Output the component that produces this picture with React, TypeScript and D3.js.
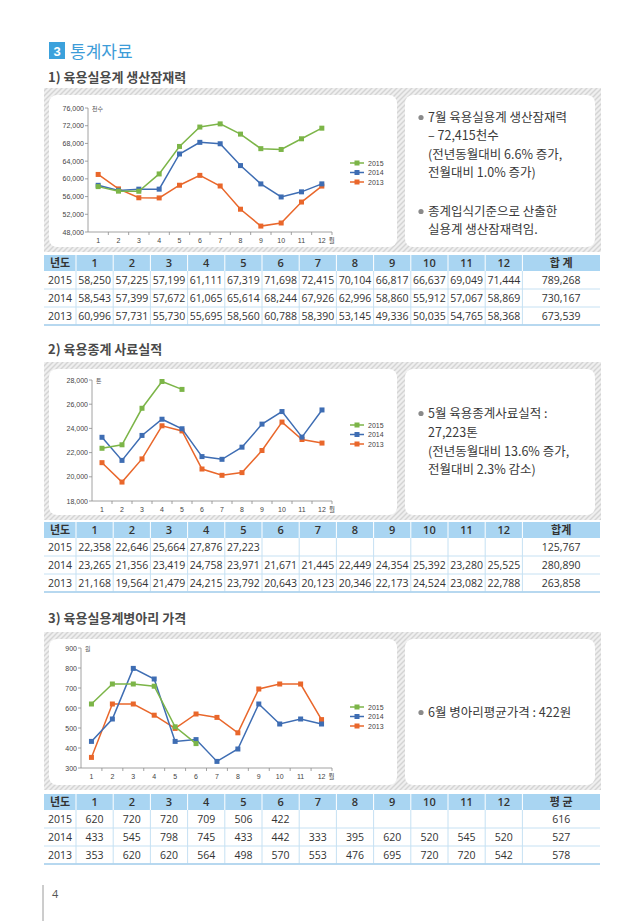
import React from 'react';
import * as d3 from 'd3';

const months = ['1', '2', '3', '4', '5', '6', '7', '8', '9', '10', '11', '12'];
const years = ['2015', '2014', '2013'];
const colors = ['#7cb548', '#3e6db3', '#e9672b'];

// 1) 육용실용계 생산잠재력 (천수)
const prod2015 = [58250, 57225, 57199, 61111, 67319, 71698, 72415, 70104, 66817, 66637, 69049, 71444];
const prod2014 = [58543, 57399, 57672, 61065, 65614, 68244, 67926, 62996, 58860, 55912, 57067, 58869];
const prod2013 = [60996, 57731, 55730, 55695, 58560, 60788, 58390, 53145, 49336, 50035, 54765, 58368];
const prodTotals = [789268, 730167, 673539];
// the chart draws month 4 of 2014 level with month 3
const prodChart2014 = [58543, 57399, 57672, 57672, 65614, 68244, 67926, 62996, 58860, 55912, 57067, 58869];
const prodTicks = [48000, 52000, 56000, 60000, 64000, 68000, 72000, 76000];

// 2) 육용종계 사료실적 (톤)
const feed2015 = [22358, 22646, 25664, 27876, 27223, null, null, null, null, null, null, null];
const feed2014 = [23265, 21356, 23419, 24758, 23971, 21671, 21445, 22449, 24354, 25392, 23280, 25525];
const feed2013 = [21168, 19564, 21479, 24215, 23792, 20643, 20123, 20346, 22173, 24524, 23082, 22788];
const feedTotals = [125767, 280890, 263858];
const feedTicks = [18000, 20000, 22000, 24000, 26000, 28000];

// 3) 육용실용계병아리 가격 (원)
const chick2015 = [620, 720, 720, 709, 506, 422, null, null, null, null, null, null];
const chick2014 = [433, 545, 798, 745, 433, 442, 333, 395, 620, 520, 545, 520];
const chick2013 = [353, 620, 620, 564, 498, 570, 553, 476, 695, 720, 720, 542];
const chickAverages = [616, 527, 578];
const chickTicks = [300, 400, 500, 600, 700, 800, 900];

const KR = '"Noto Sans CJK KR", sans-serif';
const NUM = '"Open Sans", "Noto Sans", sans-serif';
const AX = '"Liberation Sans", Arial, sans-serif';
const fmt = d3.format(',');

function Panel({ y, h }: { y: number; h: number }) {
  return (
    <g>
      <rect x={44} y={y} width={557} height={h} fill="url(#hatch)" />
      <rect x={49} y={y + 7} width={348} height={h - 12} rx={8} fill="#fff" />
      <rect x={405} y={y + 7} width={190} height={h - 12} rx={8} fill="#fff" />
    </g>
  );
}

type Series = (number | null)[];

function LineChart({
  top, bottom, axisLeft, domain, ticks, unit, series, legendY,
}: {
  top: number; bottom: number; axisLeft: number; domain: [number, number]; ticks: number[];
  unit: string; series: Series[]; legendY: number;
}) {
  const right = 332;
  const x = d3.scaleBand().domain(months).range([axisLeft, right]);
  const y = d3.scaleLinear().domain(domain).range([bottom, top]);
  const cx = (i: number) => (x(months[i]) as number) + x.bandwidth() / 2;
  const line = d3
    .line<number | null>()
    .defined((d) => d != null)
    .x((_, i) => cx(i))
    .y((d) => y(d as number));
  const fmtTick = domain[1] >= 10000 ? fmt : d3.format('d');

  return (
    <g>
      <line x1={axisLeft} x2={axisLeft} y1={top} y2={bottom} stroke="#8c8c8c" strokeWidth={0.8} />
      {ticks.map((t) => (
        <g key={t}>
          <line x1={axisLeft - 3} x2={axisLeft} y1={y(t)} y2={y(t)} stroke="#8c8c8c" strokeWidth={0.8} />
          <text x={axisLeft - 4} y={y(t) + 2.5} fontSize={7} fontFamily={AX} fill="#444" textAnchor="end">
            {fmtTick(t)}
          </text>
        </g>
      ))}
      <text x={axisLeft + 4} y={top + 2.5} fontSize={6} fontFamily={KR} fill="#555">{unit}</text>
      <line x1={axisLeft} x2={right} y1={bottom} y2={bottom} stroke="#8c8c8c" strokeWidth={0.8} />
      {months.map((m, i) => (
        <g key={m}>
          <line
            x1={(x(m) as number) + x.bandwidth()}
            x2={(x(m) as number) + x.bandwidth()}
            y1={bottom}
            y2={bottom + 3}
            stroke="#8c8c8c"
            strokeWidth={0.8}
          />
          <text x={cx(i)} y={bottom + 11} fontSize={7} fontFamily={AX} fill="#444" textAnchor="middle">{m}</text>
        </g>
      ))}
      <text x={cx(11) + 10} y={bottom + 11} fontSize={6.5} fontFamily={KR} fill="#444" textAnchor="middle">월</text>
      {series
        .map((s, k) => ({ s, k }))
        .reverse()
        .map(({ s, k }) => (
          <g key={k}>
            <path d={line(s) || ''} fill="none" stroke={colors[k]} strokeWidth={1.5} />
            {s.map((v, i) =>
              v == null ? null : (
                <rect key={i} x={cx(i) - 2.5} y={y(v) - 2.5} width={5} height={5} fill={colors[k]} />
              )
            )}
          </g>
        ))}
      {years.map((yr, k) => (
        <g key={yr} transform={`translate(350,${legendY + k * 9.5})`}>
          <line x1={0} x2={14} y1={0} y2={0} stroke={colors[k]} strokeWidth={1.5} />
          <rect x={4.5} y={-2.5} width={5} height={5} fill={colors[k]} />
          <text x={18} y={2.5} fontSize={7} fontFamily={AX} fill="#444">{yr}</text>
        </g>
      ))}
    </g>
  );
}

function Notes({ lines }: { lines: { text: string; y: number; bullet?: boolean }[] }) {
  return (
    <g>
      {lines.map((l, i) => (
        <g key={i}>
          {l.bullet && <circle cx={421} cy={l.y - 4.5} r={2.6} fill="#8a8a8a" />}
          <text x={428} y={l.y} fontSize={12.5} fontFamily={KR} fontWeight={400} fill="#3a3a3a">{l.text}</text>
        </g>
      ))}
    </g>
  );
}

function DataTable({ top, lastLabel, rows, last }: { top: number; lastLabel: string; rows: Series[]; last: number[] }) {
  const headH = 16;
  const rowH = 18;
  const left = 44;
  const yearW = 32;
  const monthW = 37.2;
  const lastX = left + yearW + monthW * 12;
  const right = 600;
  const colCenter = (i: number) => left + yearW + monthW * i + monthW / 2;
  const bottom = top + headH + rowH * rows.length;
  return (
    <g>
      <rect x={left} y={top} width={right - left} height={headH} fill="#a9d5f2" />
      {d3.range(13).map((i) => (
        <line
          key={i}
          x1={left + yearW + monthW * i}
          x2={left + yearW + monthW * i}
          y1={top}
          y2={top + headH}
          stroke="#fff"
          strokeWidth={1}
        />
      ))}
      <text x={left + yearW / 2} y={top + 12} fontSize={11} fontWeight={700} fontFamily={KR} fill="#333" textAnchor="middle">년도</text>
      {months.map((m, i) => (
        <text key={m} x={colCenter(i)} y={top + 12} fontSize={11} fontWeight={600} fontFamily={NUM} fill="#333" textAnchor="middle">{m}</text>
      ))}
      <text x={(lastX + right) / 2} y={top + 12} fontSize={11} fontWeight={700} fontFamily={KR} fill="#333" textAnchor="middle">{lastLabel}</text>
      {rows.map((r, k) => {
        const ry = top + headH + rowH * k;
        return (
          <g key={k}>
            <line x1={left} x2={right} y1={ry + rowH} y2={ry + rowH} stroke={k === rows.length - 1 ? '#9fcbea' : '#c6e1f3'} strokeWidth={1} />
            {d3.range(13).map((i) => (
              <line
                key={i}
                x1={left + yearW + monthW * i}
                x2={left + yearW + monthW * i}
                y1={ry}
                y2={ry + rowH}
                stroke="#c6e1f3"
                strokeWidth={1}
              />
            ))}
            <text x={left + yearW / 2} y={ry + 13} fontSize={10.5} fontFamily={NUM} fill="#333" textAnchor="middle">{years[k]}</text>
            {r.map((v, i) => (
              <text key={i} x={colCenter(i)} y={ry + 13} fontSize={10.5} fontFamily={NUM} fill="#333" textAnchor="middle">
                {v == null ? '' : fmt(v)}
              </text>
            ))}
            <text x={(lastX + right) / 2} y={ry + 13} fontSize={10.5} fontFamily={NUM} fill="#333" textAnchor="middle">{fmt(last[k])}</text>
          </g>
        );
      })}
      <line x1={left} x2={right} y1={bottom} y2={bottom} stroke="#9fcbea" strokeWidth={1} />
    </g>
  );
}

function SectionTitle({ y, text }: { y: number; text: string }) {
  return (
    <text x={48} y={y} fontSize={13} fontWeight={700} fontFamily={KR} fill="#4a4a4a">{text}</text>
  );
}

export default function App() {
  return (
    <div style={{ position: 'absolute', left: 0, top: 0 }}>
      <svg width={640} height={921} style={{ display: 'block', background: '#fff' }}>
        <defs>
          <pattern id="hatch" width={5} height={5} patternUnits="userSpaceOnUse">
            <rect width={5} height={5} fill="#efefef" />
            <path d="M0,5 L5,0 M-1,1 L1,-1 M4,6 L6,4" stroke="#d4d4d4" strokeWidth={1.4} />
          </pattern>
        </defs>

        <rect x={49} y={42} width={16} height={17} fill="#3ba1dc" />
        <text x={57} y={55.5} fontSize={13} fontWeight={700} fontFamily={AX} fill="#fff" textAnchor="middle">3</text>
        <text x={70} y={58} fontSize={17} fontFamily={KR} fill="#3d9cd8">통계자료</text>

        <SectionTitle y={82} text="1) 육용실용계 생산잠재력" />
        <Panel y={88} h={164} />
        <LineChart
          top={108}
          bottom={232}
          axisLeft={88}
          domain={[48000, 76000]}
          ticks={prodTicks}
          unit="천수"
          series={[prod2015, prodChart2014, prod2013]}
          legendY={163}
        />
        <Notes
          lines={[
            { text: '7월 육용실용계 생산잠재력', y: 122, bullet: true },
            { text: '– 72,415천수', y: 140 },
            { text: '(전년동월대비 6.6% 증가,', y: 159 },
            { text: '전월대비 1.0% 증가)', y: 177 },
            { text: '종계입식기준으로 산출한', y: 216, bullet: true },
            { text: '실용계 생산잠재력임.', y: 234 },
          ]}
        />
        <DataTable top={255} lastLabel="합 계" rows={[prod2015, prod2014, prod2013]} last={prodTotals} />

        <SectionTitle y={354} text="2) 육용종계 사료실적" />
        <Panel y={362} h={158} />
        <LineChart
          top={380}
          bottom={501}
          axisLeft={92}
          domain={[18000, 28000]}
          ticks={feedTicks}
          unit="톤"
          series={[feed2015, feed2014, feed2013]}
          legendY={425}
        />
        <Notes
          lines={[
            { text: '5월 육용종계사료실적 :', y: 418, bullet: true },
            { text: '27,223톤', y: 437 },
            { text: '(전년동월대비 13.6% 증가,', y: 456 },
            { text: '전월대비 2.3% 감소)', y: 474 },
          ]}
        />
        <DataTable top={522} lastLabel="합계" rows={[feed2015, feed2014, feed2013]} last={feedTotals} />

        <SectionTitle y={623} text="3) 육용실용계병아리 가격" />
        <Panel y={632} h={158} />
        <LineChart
          top={648}
          bottom={768}
          axisLeft={81}
          domain={[300, 900]}
          ticks={chickTicks}
          unit="원"
          series={[chick2015, chick2014, chick2013]}
          legendY={707}
        />
        <Notes lines={[{ text: '6월 병아리평균가격 : 422원', y: 717, bullet: true }]} />
        <DataTable top={794} lastLabel="평 균" rows={[chick2015, chick2014, chick2013]} last={chickAverages} />

        <line x1={43} x2={43} y1={885} y2={921} stroke="#9a9a9a" strokeWidth={1} />
        <text x={52} y={898} fontSize={11} fontFamily={NUM} fill="#555">4</text>
      </svg>
    </div>
  );
}
